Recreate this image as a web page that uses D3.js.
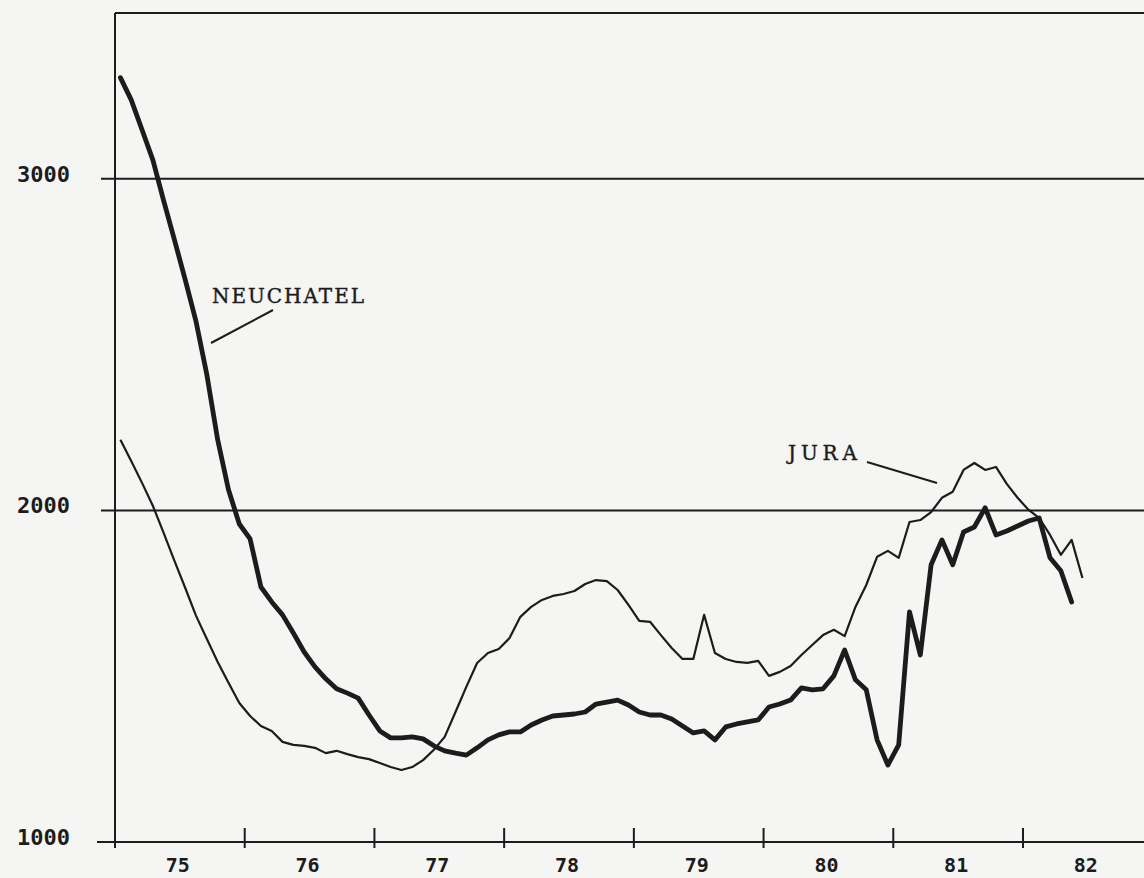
<!DOCTYPE html>
<html>
<head>
<meta charset="utf-8">
<script src="https://cdn.jsdelivr.net/npm/d3@7"></script>
<style>
  html, body { margin: 0; padding: 0; background: #f5f5f3; }
  svg { display: block; }
</style>
</head>
<body>
<svg id="chart" width="1144" height="878"></svg>
<script>
// ---- data (monthly, starting January 1975) ----
const startYear = 75;
const yearTicks = [75, 76, 77, 78, 79, 80, 81, 82];
const yearLabels = ["75", "76", "77", "78", "79", "80", "81", "82"];
const valueTicks = [1000, 2000, 3000];
const valueLabels = ["1000", "2000", "3000"];

const neuchatel = [3305,3238,3148,3057,2934,2816,2695,2569,2409,2213,
  2062,1959,1914,1769,1724,1685,1630,1573,1528,1492,
  1462,1449,1434,1383,1335,1314,1314,1317,1311,1290,
  1275,1268,1262,1284,1308,1323,1332,1332,1353,1368,
  1380,1383,1386,1392,1416,1422,1428,1413,1392,1383,
  1383,1371,1350,1329,1335,1308,1347,1356,1362,1368,
  1407,1416,1428,1465,1459,1462,1501,1579,1489,1459,
  1308,1232,1293,1694,1564,1836,1911,1836,1935,1950,
  2008,1926,1938,1953,1968,1977,1857,1818,1724];

const jura = [2213,2149,2083,2014,1932,1848,1766,1682,1612,1543,
  1480,1419,1380,1350,1335,1302,1293,1290,1284,1268,
  1275,1265,1256,1250,1238,1226,1217,1226,1247,1278,
  1317,1392,1468,1540,1570,1582,1615,1679,1709,1730,
  1742,1748,1757,1778,1790,1787,1760,1715,1667,1664,
  1624,1585,1552,1552,1685,1570,1552,1543,1540,1546,
  1501,1513,1531,1564,1594,1624,1640,1621,1709,1775,
  1860,1878,1857,1965,1971,1995,2038,2056,2122,2143,
  2122,2131,2080,2038,2002,1977,1926,1866,1911,1796];

const seriesLabels = ["NEUCHATEL", "JURA"];

// ---- layout ----
const ink = "#1c1c1c";
const svg = d3.select("#chart");
const x = d3.scaleLinear().domain([75, 82]).range([115, 1023]);
const y = d3.scaleLinear().domain([1000, 3500]).range([842, 13]);
const xRight = 1144;

// frame: top line and left axis
svg.append("line").attr("x1", x(75)).attr("x2", xRight)
  .attr("y1", y(3500)).attr("y2", y(3500))
  .attr("stroke", ink).attr("stroke-width", 2);
svg.append("line").attr("x1", x(75)).attr("x2", x(75))
  .attr("y1", y(3500)).attr("y2", y(1000) + 6)
  .attr("stroke", ink).attr("stroke-width", 2);

// horizontal grid lines / bottom axis
valueTicks.forEach((v, i) => {
  svg.append("line")
    .attr("x1", i === 0 ? 97 : 101).attr("x2", xRight)
    .attr("y1", y(v)).attr("y2", y(v))
    .attr("stroke", ink).attr("stroke-width", 2);
  svg.append("text")
    .attr("x", 70).attr("y", y(v) + 3)
    .attr("text-anchor", "end")
    .attr("font-family", "DejaVu Sans Mono")
    .attr("font-weight", "bold")
    .attr("font-size", 21)
    .attr("fill", ink)
    .attr("textLength", 53).attr("lengthAdjust", "spacingAndGlyphs")
    .text(valueLabels[i]);
});

// year ticks
yearTicks.forEach((t, i) => {
  svg.append("line")
    .attr("x1", x(t)).attr("x2", x(t))
    .attr("y1", y(1000) - 14).attr("y2", y(1000) + 6)
    .attr("stroke", ink).attr("stroke-width", 2);
  svg.append("text")
    .attr("x", x(t + 0.5) - 2).attr("y", 872)
    .attr("text-anchor", "middle")
    .attr("font-family", "DejaVu Sans Mono")
    .attr("font-weight", "bold")
    .attr("font-size", 20)
    .attr("fill", ink)
    .text(yearLabels[i]);
});

// series lines
const line = d3.line()
  .x((d, i) => x(startYear + (i + 0.5) / 12))
  .y(d => y(d));

svg.append("path").datum(jura)
  .attr("d", line).attr("fill", "none")
  .attr("stroke", ink).attr("stroke-width", 2.2)
  .attr("stroke-linejoin", "round");

svg.append("path").datum(neuchatel)
  .attr("d", line).attr("fill", "none")
  .attr("stroke", ink).attr("stroke-width", 4.8)
  .attr("stroke-linejoin", "round").attr("stroke-linecap", "round");

// annotations
svg.append("text")
  .attr("x", 212).attr("y", 303)
  .attr("font-family", "DejaVu Serif")
  .attr("font-size", 20)
  .attr("fill", ink)
  .attr("stroke", ink).attr("stroke-width", 0.4)
  .attr("textLength", 152).attr("lengthAdjust", "spacing")
  .text(seriesLabels[0]);
svg.append("line")
  .attr("x1", 211).attr("y1", 343).attr("x2", 273).attr("y2", 310)
  .attr("stroke", ink).attr("stroke-width", 2);

svg.append("text")
  .attr("x", 788).attr("y", 460)
  .attr("font-family", "DejaVu Serif")
  .attr("font-size", 20)
  .attr("fill", ink)
  .attr("stroke", ink).attr("stroke-width", 0.4)
  .attr("textLength", 69).attr("lengthAdjust", "spacing")
  .text(seriesLabels[1]);
svg.append("line")
  .attr("x1", 867).attr("y1", 462).attr("x2", 937).attr("y2", 483)
  .attr("stroke", ink).attr("stroke-width", 2);
</script>
</body>
</html>
